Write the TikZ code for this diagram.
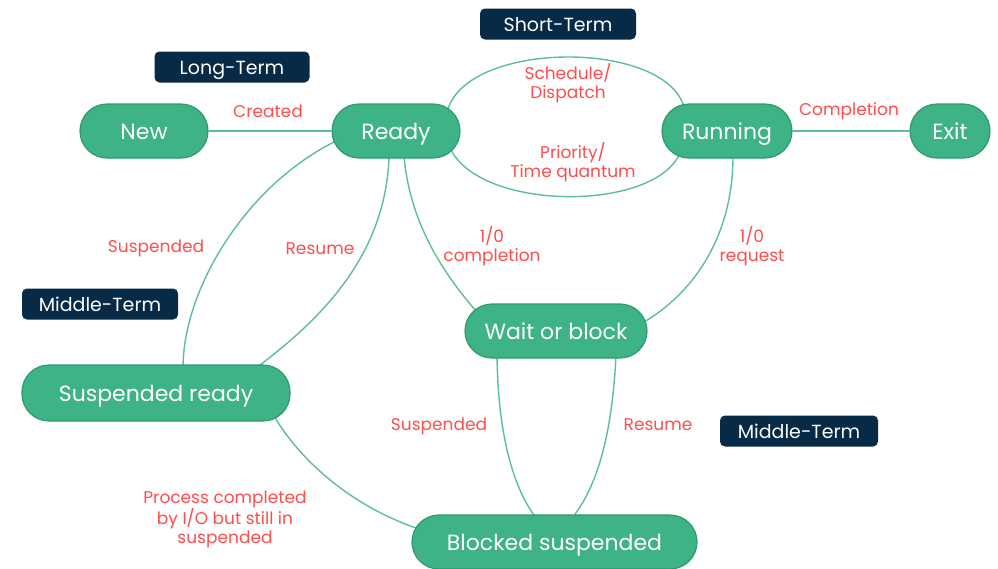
\documentclass[tikz,border=0pt]{standalone}
\usepackage{fontspec}
\setmainfont{Poppins}
\usetikzlibrary{calc,backgrounds}
\definecolor{mint}{HTML}{3DB386}
\definecolor{mintdark}{HTML}{2E9A6F}
\definecolor{wirecol}{HTML}{5CBF98}
\definecolor{navy}{HTML}{072B47}
\definecolor{alert}{HTML}{FF4D4D}
\begin{document}
\begin{tikzpicture}[x=1pt,y=-1pt,
  state/.style={draw=mintdark, line width=1.2pt, fill=mint, text=white,
    rounded corners=27pt, minimum height=54pt, inner sep=0pt,
    text height=16.8pt, text depth=0pt,
    font=\fontsize{22}{26}\selectfont},
  term/.style={fill=navy, text=white, rounded corners=5pt, minimum width=156pt,
    minimum height=31pt, inner sep=0pt, text height=14.6pt, text depth=0pt,
    font=\fontsize{19}{22}\selectfont},
  lbl/.style={text=alert, font=\fontsize{17}{18.5}\selectfont, align=center, inner sep=0pt},
  wire/.style={draw=wirecol, line width=1.4pt}]
\useasboundingbox (0,0) rectangle (998,568);

% process states
\node[state, minimum width=128pt] (new) at (144,131) {New};
\node[state, minimum width=128pt] (ready) at (396,131) {Ready};
\node[state, minimum width=130pt] (running) at (727,131) {Running};
\node[state, minimum width=80pt] (exit) at (950,131) {Exit};
\node[state, minimum width=182pt] (wait) at (556,331) {Wait or block};
\node[state, minimum width=268pt, minimum height=56pt] (sready) at (156,393) {Suspended ready};
\node[state, minimum width=285pt] (blocked) at (554.5,542) {Blocked suspended};

% scheduler tags
\node[term] (st) at (558,24) {Short-Term};
\node[term, minimum width=155pt] (lt) at (232,67) {Long-Term};
\node[term] (mt1) at (100,304) {Middle-Term};
\node[term, minimum width=158pt] (mt2) at (799,431) {Middle-Term};

% transitions, kept behind the states
\begin{scope}[on background layer]
\draw[wire] (new) -- (ready);
\draw[wire] (running) -- (exit);
\draw[wire] ($(ready)+(52,-22)$) .. controls +(22,-69) and +(-19,-67) .. ($(running)+(-43,-24)$);
\draw[wire] ($(ready)+(54,17)$) .. controls +(30,64) and +(-25,59) .. ($(running)+(-47,22)$);
\draw[wire] ($(ready)+(-58,9)$) .. controls +(-93,45) and +(0,-78) .. ($(sready)+(27,-25)$);
\draw[wire] ($(ready)+(-7,25)$) .. controls +(-3,100) and +(64,-48) .. ($(sready)+(100,-25)$);
\draw[wire] ($(ready)+(8,25)$) .. controls +(6,69) and +(-31,-36) .. ($(wait)+(-80,-20)$);
\draw[wire] ($(running)+(6,25)$) .. controls +(0,84) and +(46,-27) .. ($(wait)+(88,-9)$);
\draw[wire] ($(wait)+(-59,24)$) .. controls +(1,85) and +(-21,-28) .. ($(blocked)+(-18.5,-24)$);
\draw[wire] ($(wait)+(60,24)$) .. controls +(-4,85) and +(23,-28) .. ($(blocked)+(17.5,-24)$);
\draw[wire] ($(sready)+(118,23)$) .. controls +(26,44) and +(-66,-23) .. ($(blocked)+(-138.5,-14)$);
\end{scope}

% transition labels
\node[lbl] (lcreated) at (268,111) {Created};
\node[lbl] (lsched) at (568,83) {Schedule/\\Dispatch};
\node[lbl] (lprio) at (573,162) {Priority/\\Time quantum};
\node[lbl] (lcompl) at (849,111) {Completion};
\node[lbl] (lsusp1) at (156,248) {Suspended};
\node[lbl] (lres1) at (320,249) {Resume};
\node[lbl] (lio1) at (492,246) {1/0\\completion};
\node[lbl] (lio2) at (752,246) {1/0\\request};
\node[lbl] (lsusp2) at (439,426) {Suspended};
\node[lbl] (lres2) at (658,425) {Resume};
\node[lbl] (lproc) at (225,519) {Process completed\\by I/O but still in\\suspended};
\end{tikzpicture}
\end{document}
